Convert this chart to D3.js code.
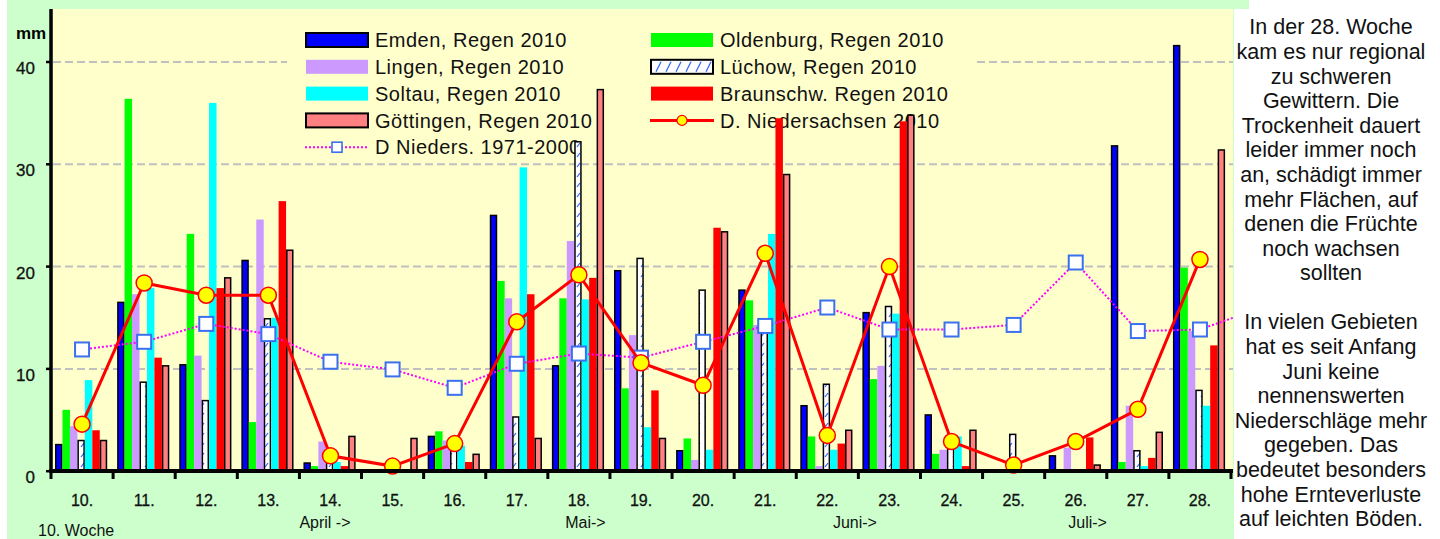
<!DOCTYPE html>
<html>
<head>
<meta charset="utf-8">
<script src="https://cdn.jsdelivr.net/npm/d3@7"></script>
<style>
  html, body { margin: 0; padding: 0; background: #ffffff; }
  svg { display: block; }
</style>
</head>
<body>
<script>
// ---------------- data ----------------
const weeks = ["10.","11.","12.","13.","14.","15.","16.","17.","18.","19.","20.","21.","22.","23.","24.","25.","26.","27.","28."];
const emden      = [2.6,16.5,10.4,20.6,0.8,0,3.4,25.0,10.3,19.6,2.0,17.7,6.4,15.5,5.5,0,1.5,31.8,41.6];
const oldenburg  = [6.0,36.4,23.2,4.8,0.5,0,3.9,18.6,16.9,8.1,3.2,16.7,3.4,9.0,1.7,0,0,0.9,19.9];
const lingen     = [4.4,17.3,11.3,24.6,2.9,0,3.0,16.9,22.5,13.3,1.1,14.3,0.5,10.3,2.1,0,2.3,6.4,13.7];
const luechow    = [3.0,8.7,6.9,14.9,1.3,0,2.3,5.3,32.2,20.8,17.7,14.5,8.5,16.1,2.5,3.6,0,2.0,7.9];
const soltau     = [8.9,17.9,36.0,15.0,0.9,0,2.5,29.7,16.8,4.3,2.1,23.2,2.1,15.4,3.4,0,0,0.5,6.4];
const braunschw  = [4.0,11.1,17.9,26.4,0.5,0,0.9,17.3,18.9,7.9,23.8,34.5,2.7,34.2,0.5,0,3.3,1.3,12.3];
const goettingen = [3.0,10.3,18.9,21.6,3.4,3.2,1.65,3.2,37.3,3.2,23.4,29.0,4.0,34.8,4.0,0,0.6,3.8,31.4];
const nieders2010 = [4.6,18.4,17.2,17.2,1.5,0.5,2.7,14.6,19.2,10.6,8.4,21.3,3.5,20.0,2.9,0.6,2.9,6.05,20.7];
const nieders7100 = [11.9,12.65,14.4,13.4,10.7,9.95,8.15,10.5,11.5,11.1,12.65,14.2,16.0,13.85,13.85,14.3,20.4,13.7,13.85];
const nieders7100Next = 16.0;   // week 29, only partly visible at the right edge
const yTicks = [0,10,20,30,40];
const monthLabels = ["April ->","Mai->","Juni->","Juli->"];
const monthWeeks  = [14.0, 18.28, 22.59, 26.38];
const note1 = ["In der 28. Woche","kam es nur regional","zu schweren","Gewittern. Die","Trockenheit dauert","leider immer noch","an, schädigt immer","mehr Flächen, auf","denen die Früchte","noch wachsen","sollten"];
const note2 = ["In vielen Gebieten","hat es seit Anfang","Juni keine","nennenswerten","Niederschläge mehr","gegeben. Das","bedeutet besonders","hohe Ernteverluste","auf leichten Böden."];

const seriesNames = ["Emden, Regen 2010","Oldenburg, Regen 2010","Lingen, Regen 2010","Lüchow, Regen 2010","Soltau, Regen 2010","Braunschw. Regen 2010","Göttingen, Regen 2010"];
const seriesValues = [emden, oldenburg, lingen, luechow, soltau, braunschw, goettingen];
const seriesFill = ["#0000ff","#00ff00","#cc99ff","url(#hatch)","#00ffff","#ff0000","#ff8080"];
const seriesStroke = ["#000","none","none","#000","none","none","#000"];

// ---------------- layout ----------------
const W = 1440, H = 539;
const svg = d3.select("body").append("svg").attr("width", W).attr("height", H);
const font = "'Liberation Sans', Arial, sans-serif";

const defs = svg.append("defs");
const pat = defs.append("pattern").attr("id","hatch").attr("patternUnits","userSpaceOnUse")
  .attr("width",8).attr("height",10);
pat.append("rect").attr("width",8).attr("height",10).attr("fill","#ffffff");
pat.append("path").attr("d","M1,7 L4,3").attr("stroke","#3366ff").attr("stroke-width",1.2);

const plotL = 53, plotR = 1233, plotT = 9, plotB = 471;
defs.append("clipPath").attr("id","plotclip").append("rect")
  .attr("x",plotL).attr("y",plotT).attr("width",plotR-plotL).attr("height",plotB-plotT);

// backgrounds
svg.append("rect").attr("x",7).attr("y",0).attr("width",1227).attr("height",H).attr("fill","#ccffcc");
svg.append("rect").attr("x",7).attr("y",0).attr("width",1242).attr("height",9).attr("fill","#ccffcc");
svg.append("rect").attr("x",plotL).attr("y",plotT).attr("width",plotR-plotL).attr("height",plotB-plotT).attr("fill","#ffffcc");

// scales
const x0 = d3.scaleBand().domain(weeks).range([51,1231]).padding(0);
const bw = x0.bandwidth();
const x1 = d3.scaleBand().domain(seriesNames).range([bw*0.065, bw*0.905]).padding(0);
const y = d3.scaleLinear().domain([0,40]).range([471.2, 62]);
const xw = d3.scaleLinear().domain([10,29]).range([51,1231]);

// gridlines
svg.append("g").selectAll("line").data(yTicks.filter(d=>d>0)).join("line")
  .attr("x1",plotL).attr("x2",plotR).attr("y1",d=>y(d)).attr("y2",d=>y(d))
  .attr("stroke","#c0c0c0").attr("stroke-width",2).attr("stroke-dasharray","8,4");

// legend (drawn under the bars)
const lg = svg.append("g");
lg.append("rect").attr("x",287).attr("y",22).attr("width",688).attr("height",136).attr("fill","#ffffcc");
const legendItems = [
  {name:seriesNames[0], col:0, row:0, type:"bar", i:0},
  {name:seriesNames[2], col:0, row:1, type:"bar", i:2},
  {name:seriesNames[4], col:0, row:2, type:"bar", i:4},
  {name:seriesNames[6], col:0, row:3, type:"bar", i:6},
  {name:"D Nieders. 1971-2000", col:0, row:4, type:"lt"},
  {name:seriesNames[1], col:1, row:0, type:"bar", i:1},
  {name:seriesNames[3], col:1, row:1, type:"bar", i:3},
  {name:seriesNames[5], col:1, row:2, type:"bar", i:5},
  {name:"D. Niedersachsen 2010", col:1, row:3, type:"n10"}
];
const colX = [305, 650], rowY0 = 40, rowDY = 26.8;
legendItems.forEach(it => {
  const sx = colX[it.col], cy = rowY0 + it.row*rowDY;
  if (it.type === "bar") {
    if (it.i === 3) {
      lg.append("rect").attr("x",sx+1).attr("y",cy-7).attr("width",62).attr("height",14)
        .attr("fill","#ffffff").attr("stroke","#000").attr("stroke-width",2);
      lg.append("g").selectAll("line").data(d3.range(6)).join("line")
        .attr("x1",d=>sx+6+d*10).attr("x2",d=>sx+11+d*10).attr("y1",cy+5).attr("y2",cy-5)
        .attr("stroke","#3366ff").attr("stroke-width",1.3);
    } else {
      lg.append("rect").attr("x",sx+1).attr("y",cy-7).attr("width",62).attr("height",14)
        .attr("fill",seriesFill[it.i]).attr("stroke",seriesStroke[it.i]).attr("stroke-width",2);
    }
  } else if (it.type === "lt") {
    lg.append("line").attr("x1",sx).attr("x2",sx+64).attr("y1",cy).attr("y2",cy)
      .attr("stroke","#ff00ff").attr("stroke-width",2).attr("stroke-dasharray","2,2");
    lg.append("rect").attr("x",sx+27).attr("y",cy-5).attr("width",10).attr("height",10)
      .attr("fill","#fff").attr("stroke","#3a70f0").attr("stroke-width",1.6);
  } else {
    lg.append("line").attr("x1",sx).attr("x2",sx+64).attr("y1",cy).attr("y2",cy)
      .attr("stroke","#ff0000").attr("stroke-width",3);
    lg.append("circle").attr("cx",sx+32).attr("cy",cy).attr("r",5)
      .attr("fill","#ffff00").attr("stroke","#ff0000").attr("stroke-width",1.2);
  }
  lg.append("text").attr("x",sx+70).attr("y",cy).attr("dy","0.36em")
    .attr("font-family",font).attr("font-size",20).attr("letter-spacing",0.5)
    .attr("fill","#111").text(it.name);
});

// bars
const barG = svg.append("g");
seriesNames.forEach((name, si) => {
  const vals = seriesValues[si];
  barG.append("g").selectAll("rect")
    .data(weeks.map((w,i)=>({w, v: vals[i]})).filter(d=>d.v>0))
    .join("rect")
    .attr("x", d => x0(d.w) + x1(name) + (seriesStroke[si]==="none"?0:0.75))
    .attr("y", d => y(d.v))
    .attr("width", x1.bandwidth() - (seriesStroke[si]==="none"?0:1.5))
    .attr("height", d => y(0) - y(d.v))
    .attr("fill", seriesFill[si])
    .attr("stroke", seriesStroke[si])
    .attr("stroke-width", 1.5);
});

// long-term average line (dotted magenta, white squares)
const ltPts = weeks.map((w,i)=>[x0(w)+bw/2, y(nieders7100[i])]);
ltPts.push([x0(weeks[weeks.length-1])+bw*1.5, y(nieders7100Next)]);
svg.append("path").attr("clip-path","url(#plotclip)")
  .attr("d", d3.line()(ltPts)).attr("fill","none")
  .attr("stroke","#ff00ff").attr("stroke-width",2).attr("stroke-dasharray","2,2");
svg.append("g").selectAll("rect").data(weeks.map((w,i)=>({w,v:nieders7100[i]}))).join("rect")
  .attr("x", d=>x0(d.w)+bw/2-7).attr("y", d=>y(d.v)-7).attr("width",14).attr("height",14)
  .attr("fill","#ffffff").attr("stroke","#3a70f0").attr("stroke-width",2);

// 2010 Niedersachsen line
svg.append("path")
  .attr("d", d3.line()(weeks.map((w,i)=>[x0(w)+bw/2, y(nieders2010[i])])))
  .attr("fill","none").attr("stroke","#ff0000").attr("stroke-width",3);
svg.append("g").selectAll("circle").data(weeks.map((w,i)=>({w,v:nieders2010[i]}))).join("circle")
  .attr("cx", d=>x0(d.w)+bw/2).attr("cy", d=>y(d.v)).attr("r",8)
  .attr("fill","#ffff00").attr("stroke","#ff0000").attr("stroke-width",1.5);

// y axis
svg.append("line").attr("x1",51).attr("x2",51).attr("y1",plotT).attr("y2",plotB+2)
  .attr("stroke","#000").attr("stroke-width",3.5);
const yAx = svg.append("g");
yAx.selectAll("line").data(yTicks).join("line")
  .attr("x1",46).attr("x2",51).attr("y1",d=>y(d)).attr("y2",d=>y(d))
  .attr("stroke","#000").attr("stroke-width",2.5);
yAx.selectAll("text").data(yTicks).join("text")
  .attr("x",35).attr("y",d=>y(d)+6).attr("dy","0.36em").attr("text-anchor","end")
  .attr("font-family",font).attr("font-size",17).attr("fill","#111")
  .attr("stroke","#111").attr("stroke-width",0.3).text(d=>d);
svg.append("text").attr("x",16).attr("y",33).attr("dy","0.36em")
  .attr("font-family",font).attr("font-size",17).attr("font-weight","bold").attr("fill","#000").text("mm");

// x axis
svg.append("line").attr("x1",49).attr("x2",1233).attr("y1",471).attr("y2",471)
  .attr("stroke","#000").attr("stroke-width",4);
const bounds = weeks.map(w=>x0(w)).concat([x0(weeks[weeks.length-1])+bw]);
svg.append("g").selectAll("line").data(bounds).join("line")
  .attr("x1",d=>d).attr("x2",d=>d).attr("y1",471).attr("y2",479)
  .attr("stroke","#000").attr("stroke-width",3);
svg.append("g").selectAll("text").data(weeks).join("text")
  .attr("x",d=>x0(d)+bw/2).attr("y",500).attr("dy","0.36em").attr("text-anchor","middle")
  .attr("font-family",font).attr("font-size",16).attr("fill","#111")
  .attr("stroke","#111").attr("stroke-width",0.3).text(d=>d);
svg.append("text").attr("x",38).attr("y",530).attr("dy","0.36em")
  .attr("font-family",font).attr("font-size",16).attr("fill","#111").text(weeks[0]+" Woche");
svg.append("g").selectAll("text").data(monthLabels).join("text")
  .attr("x",(d,i)=>xw(monthWeeks[i])).attr("y",522).attr("dy","0.36em")
  .attr("font-family",font).attr("font-size",16).attr("fill","#111").text(d=>d);

// right-hand notes
const nt = svg.append("g").attr("font-family",font).attr("font-size",21.5).attr("fill","#111").attr("text-anchor","middle");
note1.forEach((t,i)=>nt.append("text").attr("x",1331).attr("y",26.7+i*24.6).attr("dy","0.36em").text(t));
note2.forEach((t,i)=>nt.append("text").attr("x",1331).attr("y",321.7+i*24.6).attr("dy","0.36em").text(t));
</script>
</body>
</html>
